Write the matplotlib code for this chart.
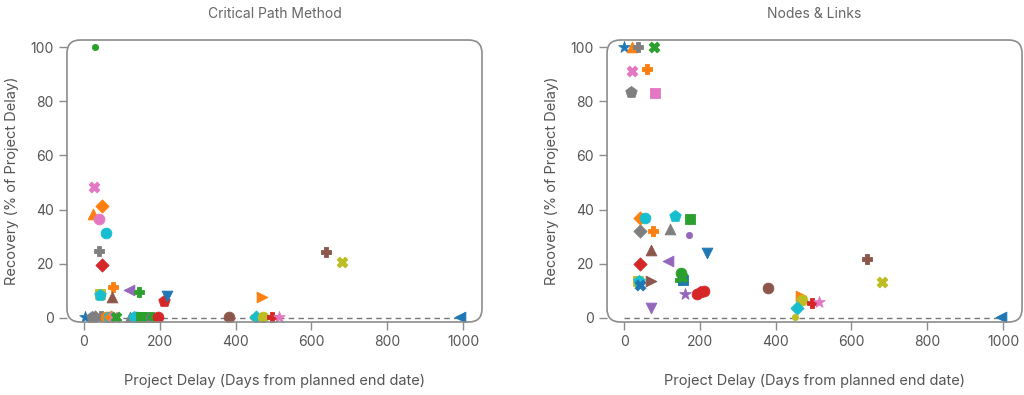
import matplotlib
matplotlib.use('Agg')
import matplotlib.pyplot as plt
from matplotlib.patches import FancyBboxPatch

plt.rcParams['font.family'] = ['Inter', 'DejaVu Sans']

# Critical Path Method panel
cpm_delay = [29, 27, 48, 24, 39, 58, 40, 48, 76, 42, 42, 74, 118, 145, 211, 219,
             470, 638, 680,
             3, 20, 30, 45, 58, 65, 72, 80, 85, 122, 132, 140, 150, 162, 172,
             180, 195, 382, 447, 453, 472, 495, 515, 992]
cpm_recovery = [100, 48.3, 41.3, 38.4, 36.6, 31.4, 24.8, 19.6, 11.5, 9.0, 8.5, 7.7, 10.3, 9.5, 6.3, 8.0,
                7.9, 24.4, 20.6,
                0.5, 0.5, 0.5, 0.8, 0.5, 0.5, 0.5, 0.5, 0.5, 0.5, 0.5, 0.5, 0.5, 0.5, 0.5,
                0.5, 0.5, 0.5, 0.5, 0.5, 0.5, 0.5, 0.5, 0.5]

# Nodes & Links panel
nl_delay = [0, 20, 38, 80, 22, 60, 18, 82, 42, 55, 135, 175, 42, 75, 122, 172,
            70, 218, 42, 115, 38, 40, 42, 70, 150, 148, 155, 152, 160, 192, 200,
            210, 70, 381, 468, 470, 455, 450, 495, 513, 640, 680, 995]
nl_recovery = [100, 100, 100, 100, 91, 92, 83.5, 83, 37, 37, 37.5, 36.5, 32, 32, 33, 30.5,
               25, 24, 20, 21, 13.5, 13.5, 12, 13.5, 16.5, 14, 14, 15, 9, 9, 9.5,
               10, 3.5, 11, 8, 6.5, 3.7, 0.5, 5.5, 6, 21.8, 13.3, 0.5]

# styles, one per point
cpm_colors = ['tab:green', 'tab:pink', 'tab:orange', 'tab:orange', 'tab:pink', 'tab:cyan', 'tab:gray',
              'tab:red', 'tab:orange', 'tab:olive', 'tab:cyan', 'tab:brown', 'tab:purple', 'tab:green',
              'tab:red', 'tab:blue', 'tab:orange', 'tab:brown', 'tab:olive',
              'tab:blue', 'tab:gray', 'tab:gray', 'tab:gray', 'tab:orange', 'tab:cyan', 'tab:orange',
              'tab:pink', 'tab:green', 'tab:gray', 'tab:cyan', 'tab:cyan', 'tab:green', 'tab:green',
              'tab:purple', 'tab:green', 'tab:red', 'tab:brown', 'tab:olive', 'tab:cyan', 'tab:olive',
              'tab:red', 'tab:pink', 'tab:blue']
cpm_markers = ['o', 'X', 'D', '^', 'o', 'o', 'P', 'D', 'P', 's', 'p', '^', '<', 'P', 'p', 'v',
               '>', 'P', 'X',
               '*', 'p', 'D', 'P', 'o', 'o', 'D', 'X', 'X', '^', 'p', 'o', 's', 's', 'o',
               'P', 'o', 'o', 'o', 'D', 'o', 'P', '*', '<']
cpm_small = [0, 33, 37]

nl_colors = ['tab:blue', 'tab:orange', 'tab:gray', 'tab:green', 'tab:pink', 'tab:orange', 'tab:gray',
             'tab:pink', 'tab:orange', 'tab:cyan', 'tab:cyan', 'tab:green', 'tab:gray', 'tab:orange',
             'tab:gray', 'tab:purple', 'tab:brown', 'tab:blue', 'tab:red', 'tab:purple', 'tab:olive',
             'tab:cyan', 'tab:blue', 'tab:brown', 'tab:green', 'tab:green', 'tab:blue', 'tab:green',
             'tab:purple', 'tab:red', 'tab:red', 'tab:red', 'tab:purple', 'tab:brown', 'tab:orange',
             'tab:olive', 'tab:cyan', 'tab:olive', 'tab:red', 'tab:pink', 'tab:brown', 'tab:olive',
             'tab:blue']
nl_markers = ['*', '^', 'P', 'X', 'X', 'P', 'p', 's', 'D', 'o', 'p', 's', 'D', 'P', '^', 'o',
              '^', 'v', 'D', '<', 's', 'p', 'X', '>', 'o', 'P', 's', 'X', '*', 'o', 'p',
              'o', 'v', 'o', '>', 'o', 'D', 'o', 'P', '*', 'P', 'X', '<']
nl_small = [15, 37]

TEXT = '#555555'
FRAME = '#8c8c8c'


def draw_panel(ax, delay, recovery, colors, markers, small, title):
    ax.plot([0, 1000], [0, 0], linestyle=(0, (4, 3)), color='#777777', linewidth=1, zorder=1)
    for i in range(len(delay)):
        if i in small:
            size = 20
        elif markers[i] == 'D':
            size = 45
        elif markers[i] in ('*', 'p'):
            size = 75
        else:
            size = 60
        ax.scatter(delay[i], recovery[i], s=size, c=colors[i], marker=markers[i],
                   edgecolors=colors[i], linewidths=0.6, zorder=3)
    ax.set_xlim(-45, 1050)
    ax.set_ylim(-1.5, 102.6)
    ax.set_xticks([0, 200, 400, 600, 800, 1000])
    ax.set_yticks([0, 20, 40, 60, 80, 100])
    for spine in ax.spines.values():
        spine.set_visible(False)
    ax.tick_params(colors=FRAME, labelcolor=TEXT, labelsize=10, length=6, width=1)
    ax.set_xlabel('Project Delay (Days from planned end date)', color=TEXT, fontsize=10.5, labelpad=18)
    ax.set_ylabel('Recovery (% of Project Delay)', color=TEXT, fontsize=10.5, labelpad=8)
    ax.set_title(title, color='#666666', fontsize=10, pad=16)
    # rounded frame round the axes
    w = ax.get_position().width * fig.get_figwidth()
    h = ax.get_position().height * fig.get_figheight()
    frame = FancyBboxPatch((0, 0), 1, 1, boxstyle='round,pad=0,rounding_size=0.032',
                           mutation_aspect=w / h, transform=ax.transAxes, fill=False,
                           edgecolor=FRAME, linewidth=1.2, clip_on=False, zorder=5)
    ax.add_patch(frame)


if __name__ == '__main__':
    fig = plt.figure(figsize=(10.24, 3.95), dpi=100)
    ax1 = fig.add_axes([0.0654, 0.1848, 0.4053, 0.7139])
    ax2 = fig.add_axes([0.5928, 0.1848, 0.4053, 0.7139])

    draw_panel(ax1, cpm_delay, cpm_recovery, cpm_colors, cpm_markers, cpm_small, 'Critical Path Method')
    draw_panel(ax2, nl_delay, nl_recovery, nl_colors, nl_markers, nl_small, 'Nodes & Links')

    fig.savefig('out.png', dpi=100)
